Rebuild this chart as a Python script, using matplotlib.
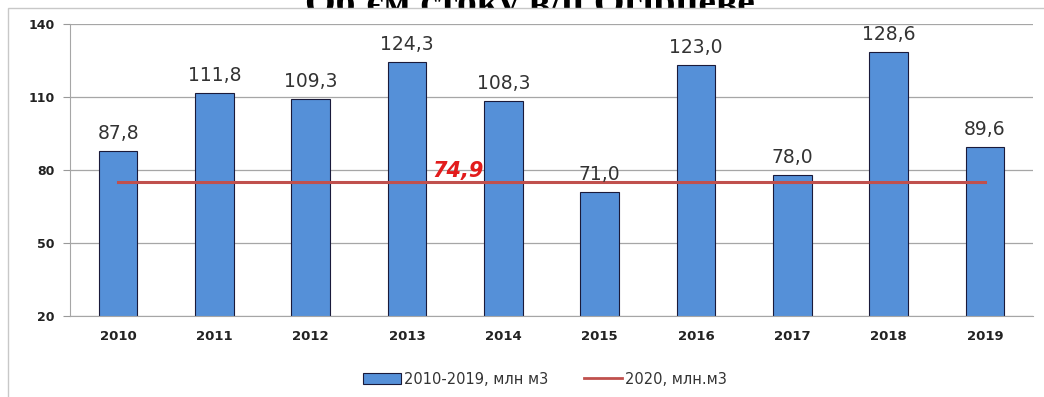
import matplotlib
matplotlib.use("Agg")
import matplotlib.pyplot as plt
from matplotlib.patches import Rectangle
from matplotlib.lines import Line2D
import numpy as np

years = ["2010", "2011", "2012", "2013", "2014", "2015", "2016", "2017", "2018", "2019"]
volumes = [87.8, 111.8, 109.3, 124.3, 108.3, 71.0, 123.0, 78.0, 128.6, 89.6]
level_2020 = 74.9
y_ticks = [20, 50, 80, 110, 140]
title = "Об'єм стоку в/п Огірцеве"
bar_label = "2010-2019, млн м3"
line_label = "2020, млн.м3"

W, H = 1044, 397
fig = plt.figure(figsize=(W / 100, H / 100), dpi=100)
fig.patch.set_facecolor("white")

# title sits behind the chart frame
fig.text(530 / W, 1 - 15 / H, title, ha="center", va="baseline", fontsize=28.5,
         fontweight="bold", family=["Liberation Serif", "DejaVu Serif"], zorder=1)

# chart frame (white, drawn over the title)
fig.patches.append(Rectangle((8 / W, -0.05), 1.2, 1.05 - 8 / H, transform=fig.transFigure,
                             facecolor="white", edgecolor="#c8c8c8", linewidth=1.0,
                             zorder=2))

ax = fig.add_axes([70 / W, 1 - 316 / H, (1033 - 70) / W, (316 - 24) / H])
ax.set_zorder(3)
ax.patch.set_alpha(0)
x = np.arange(len(years))
ax.bar(x, volumes, width=0.4, bottom=0, color="#5590d8", edgecolor="#1a1a3a",
       linewidth=0.8, zorder=2)
ax.plot([x[0], x[-1]], [level_2020, level_2020], color="#c0504d", linewidth=2.2, zorder=3)

for xi, v in zip(x, volumes):
    ax.text(xi, v + 3.3, f"{v:.1f}".replace(".", ","), ha="center", va="bottom",
            fontsize=13.5, color="#333333", family="DejaVu Sans")

ax.text(3.53, level_2020 + 4.8, f"{level_2020}".replace(".", ","), ha="center", va="center",
        fontsize=15, color="#e21c1c", fontweight="bold", fontstyle="italic",
        family="DejaVu Sans", zorder=4)

ax.set_xlim(-0.5, len(years) - 0.5)
ax.set_ylim(20, 140)
ax.set_yticks(y_ticks)
ax.set_yticklabels([str(t) for t in y_ticks], fontsize=9, fontweight="bold",
                   family="DejaVu Sans", color="#222222")
ax.set_xticks(x)
ax.set_xticklabels(years, fontsize=9.5, fontweight="bold", family="DejaVu Sans",
                   color="#222222")
ax.tick_params(axis="y", length=5, color="#999999", pad=6)
ax.tick_params(axis="x", length=0, pad=10)
ax.grid(axis="y", color="#a6a6a6", linewidth=0.9, zorder=0)
for side in ["top", "right"]:
    ax.spines[side].set_visible(False)
for side in ["left", "bottom"]:
    ax.spines[side].set_color("#a6a6a6")

handles = [Rectangle((0, 0), 1, 1, facecolor="#5590d8", edgecolor="#1a1a3a", linewidth=0.8),
           Line2D([0], [0], color="#c0504d", linewidth=2)]
leg = fig.legend(handles, [bar_label, line_label], loc="center",
                 bbox_to_anchor=(545 / W, 1 - 379 / H), ncol=2, frameon=False,
                 handlelength=2.6, handletextpad=0.2, columnspacing=2.5,
                 prop={"family": "DejaVu Sans", "size": 10.5})
for t in leg.get_texts():
    t.set_color("#333333")
leg.set_zorder(4)

fig.savefig("out.png", dpi=100)
